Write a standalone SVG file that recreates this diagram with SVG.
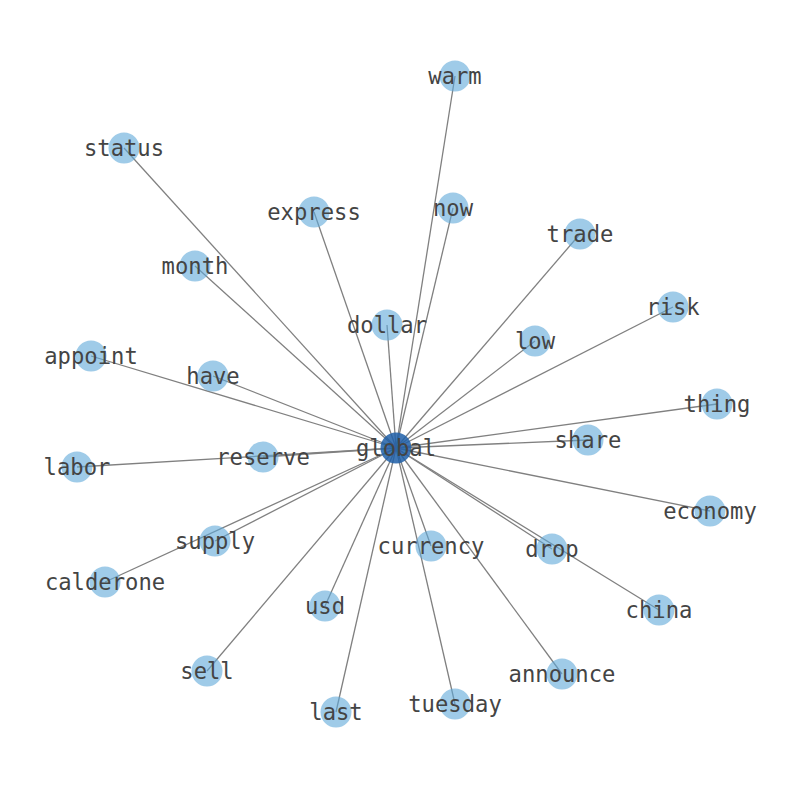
<svg xmlns="http://www.w3.org/2000/svg" width="794" height="790" viewBox="0 0 794 790">
<style>
.e{stroke:#808080;stroke-width:1.3;fill:none}
.n circle{fill:#5fa8d8;fill-opacity:0.6}
#n-global circle{fill:#1f5fa8;fill-opacity:0.85}
text{font-family:"DejaVu Sans Mono","Liberation Mono",monospace;font-size:22.2px;fill:#444;text-anchor:middle;dominant-baseline:central}
</style>
<rect width="794" height="790" fill="#fff"/>
<g id="edges">
<line class="e" x1="396" y1="448" x2="455" y2="76"/>
<line class="e" x1="396" y1="448" x2="124" y2="148"/>
<line class="e" x1="396" y1="448" x2="314" y2="212"/>
<line class="e" x1="396" y1="448" x2="453" y2="208"/>
<line class="e" x1="396" y1="448" x2="580" y2="234"/>
<line class="e" x1="396" y1="448" x2="195" y2="266"/>
<line class="e" x1="396" y1="448" x2="673" y2="307"/>
<line class="e" x1="396" y1="448" x2="387" y2="325"/>
<line class="e" x1="396" y1="448" x2="535" y2="341"/>
<line class="e" x1="396" y1="448" x2="91" y2="356"/>
<line class="e" x1="396" y1="448" x2="213" y2="376"/>
<line class="e" x1="396" y1="448" x2="717" y2="404"/>
<line class="e" x1="396" y1="448" x2="77" y2="467"/>
<line class="e" x1="396" y1="448" x2="263" y2="457"/>
<line class="e" x1="396" y1="448" x2="588" y2="440"/>
<line class="e" x1="396" y1="448" x2="710" y2="511"/>
<line class="e" x1="396" y1="448" x2="215" y2="541"/>
<line class="e" x1="396" y1="448" x2="431" y2="546"/>
<line class="e" x1="396" y1="448" x2="552" y2="549"/>
<line class="e" x1="396" y1="448" x2="105" y2="582"/>
<line class="e" x1="396" y1="448" x2="659" y2="610"/>
<line class="e" x1="396" y1="448" x2="325" y2="606"/>
<line class="e" x1="396" y1="448" x2="207" y2="671"/>
<line class="e" x1="396" y1="448" x2="562" y2="674"/>
<line class="e" x1="396" y1="448" x2="336" y2="712"/>
<line class="e" x1="396" y1="448" x2="455" y2="704"/>
</g>
<g id="n-warm" class="n"><circle cx="455" cy="76" r="15.5"/><text x="455" y="76">warm</text></g>
<g id="n-status" class="n"><circle cx="124" cy="148" r="15.5"/><text x="124" y="148">status</text></g>
<g id="n-express" class="n"><circle cx="314" cy="212" r="15.5"/><text x="314" y="212">express</text></g>
<g id="n-now" class="n"><circle cx="453" cy="208" r="15.5"/><text x="453" y="208">now</text></g>
<g id="n-trade" class="n"><circle cx="580" cy="234" r="15.5"/><text x="580" y="234">trade</text></g>
<g id="n-month" class="n"><circle cx="195" cy="266" r="15.5"/><text x="195" y="266">month</text></g>
<g id="n-risk" class="n"><circle cx="673" cy="307" r="15.5"/><text x="673" y="307">risk</text></g>
<g id="n-dollar" class="n"><circle cx="387" cy="325" r="15.5"/><text x="387" y="325">dollar</text></g>
<g id="n-low" class="n"><circle cx="535" cy="341" r="15.5"/><text x="535" y="341">low</text></g>
<g id="n-appoint" class="n"><circle cx="91" cy="356" r="15.5"/><text x="91" y="356">appoint</text></g>
<g id="n-have" class="n"><circle cx="213" cy="376" r="15.5"/><text x="213" y="376">have</text></g>
<g id="n-thing" class="n"><circle cx="717" cy="404" r="15.5"/><text x="717" y="404">thing</text></g>
<g id="n-labor" class="n"><circle cx="77" cy="467" r="15.5"/><text x="77" y="467">labor</text></g>
<g id="n-reserve" class="n"><circle cx="263" cy="457" r="15.5"/><text x="263" y="457">reserve</text></g>
<g id="n-share" class="n"><circle cx="588" cy="440" r="15.5"/><text x="588" y="440">share</text></g>
<g id="n-economy" class="n"><circle cx="710" cy="511" r="15.5"/><text x="710" y="511">economy</text></g>
<g id="n-supply" class="n"><circle cx="215" cy="541" r="15.5"/><text x="215" y="541">supply</text></g>
<g id="n-currency" class="n"><circle cx="431" cy="546" r="15.5"/><text x="431" y="546">currency</text></g>
<g id="n-drop" class="n"><circle cx="552" cy="549" r="15.5"/><text x="552" y="549">drop</text></g>
<g id="n-calderone" class="n"><circle cx="105" cy="582" r="15.5"/><text x="105" y="582">calderone</text></g>
<g id="n-china" class="n"><circle cx="659" cy="610" r="15.5"/><text x="659" y="610">china</text></g>
<g id="n-usd" class="n"><circle cx="325" cy="606" r="15.5"/><text x="325" y="606">usd</text></g>
<g id="n-sell" class="n"><circle cx="207" cy="671" r="15.5"/><text x="207" y="671">sell</text></g>
<g id="n-announce" class="n"><circle cx="562" cy="674" r="15.5"/><text x="562" y="674">announce</text></g>
<g id="n-last" class="n"><circle cx="336" cy="712" r="15.5"/><text x="336" y="712">last</text></g>
<g id="n-tuesday" class="n"><circle cx="455" cy="704" r="15.5"/><text x="455" y="704">tuesday</text></g>
<g id="n-global" class="n"><circle cx="396" cy="448" r="15.5"/><text x="396" y="448">global</text></g>
</svg>
